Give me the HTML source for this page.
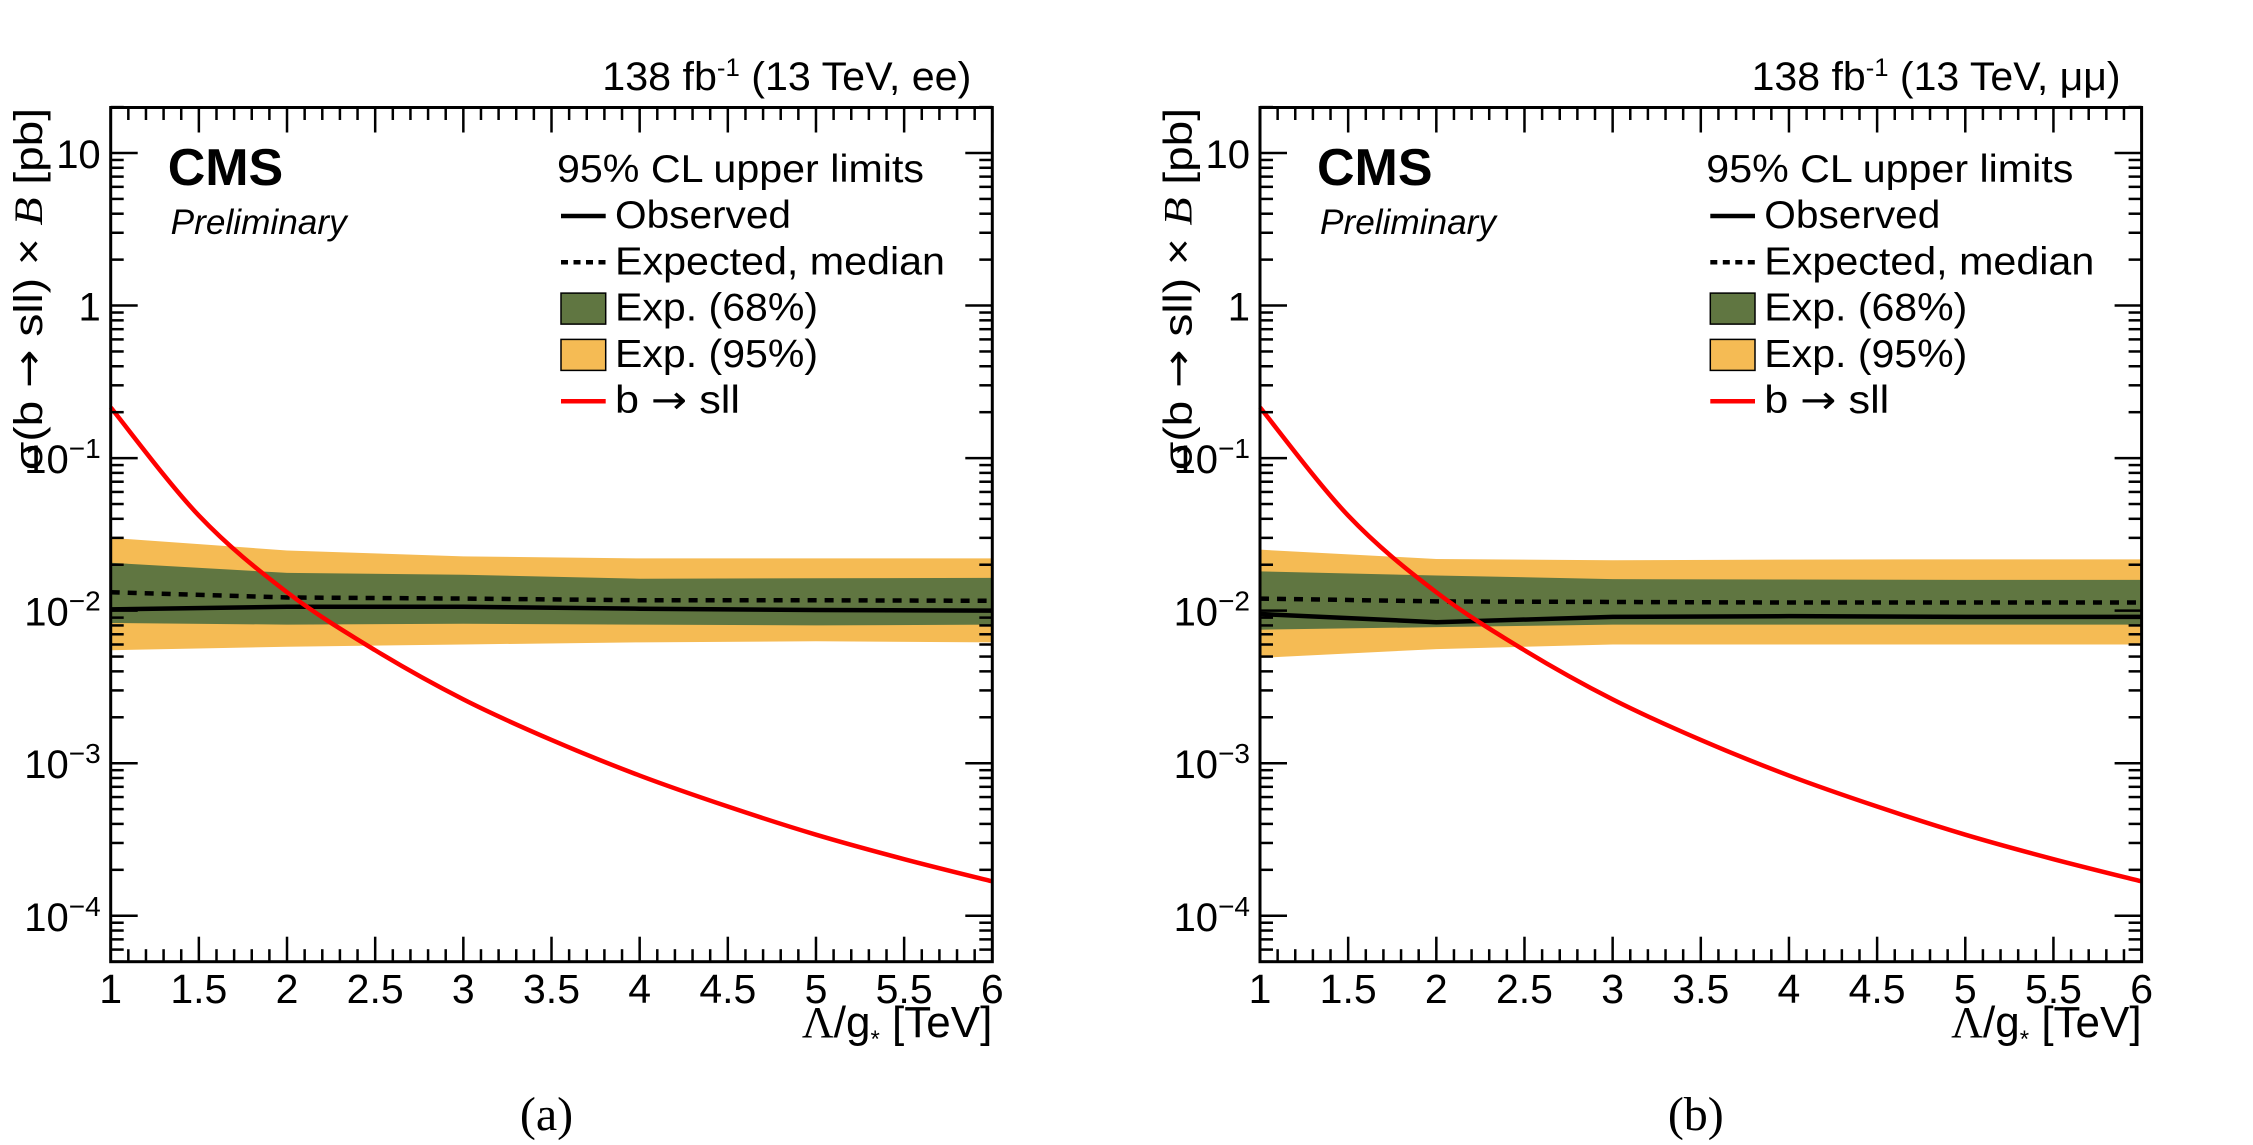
<!DOCTYPE html>
<html><head><meta charset="utf-8">
<style>
html,body{margin:0;padding:0;background:#fff;}
svg{display:block;font-family:"Liberation Sans",sans-serif;}
</style></head>
<body>
<svg id="fig" width="2253" height="1145" viewBox="0 0 2253 1145" xmlns="http://www.w3.org/2000/svg"></svg>
<script>
// ---- data ----
const xTicks = [1, 1.5, 2, 2.5, 3, 3.5, 4, 4.5, 5, 5.5, 6];
const xTickLabels = ["1","1.5","2","2.5","3","3.5","4","4.5","5","5.5","6"];
const yDecades = [1, 0, -1, -2, -3, -4];
const bandX = [1, 2, 3, 4, 5, 6];
// panel a (ee)
const aObs   = [0.0102, 0.0106, 0.0106, 0.0103, 0.0101, 0.0100];
const aExp   = [0.0132, 0.0122, 0.0120, 0.0117, 0.0117, 0.0116];
const aUp68  = [0.0206, 0.0177, 0.0172, 0.0162, 0.0163, 0.0164];
const aLo68  = [0.0083, 0.0081, 0.0082, 0.0081, 0.0080, 0.0081];
const aUp95  = [0.0300, 0.0248, 0.0227, 0.0220, 0.0220, 0.0220];
const aLo95  = [0.0055, 0.0058, 0.0060, 0.0062, 0.0063, 0.0062];
// panel b (mumu)
const bObs   = [0.0095, 0.0084, 0.0091, 0.0092, 0.0091, 0.0091];
const bExp   = [0.0120, 0.0115, 0.0114, 0.0113, 0.0113, 0.0113];
const bUp68  = [0.0181, 0.0170, 0.0161, 0.0160, 0.0159, 0.0159];
const bLo68  = [0.0075, 0.0078, 0.0081, 0.0081, 0.0081, 0.0081];
const bUp95  = [0.0251, 0.0218, 0.0214, 0.0216, 0.0217, 0.0217];
const bLo95  = [0.0049, 0.0056, 0.0060, 0.0060, 0.0060, 0.0060];
// theory b -> sll
const thX = [1, 1.5, 2, 2.5, 3, 3.5, 4, 4.5, 5, 5.5, 6];
const thY = [0.215, 0.042, 0.0132, 0.0055, 0.00262, 0.00142, 0.00083, 0.00052, 0.00034, 0.000235, 0.000168];

const NS = "http://www.w3.org/2000/svg";
const svg = document.getElementById('fig');
function mk(tag, attrs, parent){
  const e = document.createElementNS(NS, tag);
  for (const k in attrs) e.setAttribute(k, attrs[k]);
  (parent||svg).appendChild(e);
  return e;
}
function txt(s, attrs, parent){ const t = mk('text', attrs, parent); t.textContent = s; return t; }

function panel(off, label, chan, obs, exp, up68, lo68, up95, lo95, cap){
  const L = 110.7 + off, R = L + 881.6, T = 107.5, B = 961.7;
  const X = v => L + (v - 1) * (R - L) / 5;
  const Y = v => 153 + (1 - Math.log10(v)) * 152.55;
  const g = mk('g', {});
  
  
  function band(up, lo, color, name){
    let d = '';
    bandX.forEach((x,i)=>{ d += (i?'L':'M') + X(x) + ' ' + Y(up[i]); });
    for (let i = bandX.length-1; i >= 0; i--) d += 'L' + X(bandX[i]) + ' ' + Y(lo[i]);
    const p = mk('path', {d: d + 'Z', fill: color, stroke: 'none'}, g);
    
    
  }
  band(up95, lo95, '#F5BB54', 'band-95');
  band(up68, lo68, '#607641', 'band-68');
  function line(arr, attrs, name){
    const pts = bandX.map((x,i)=> X(x) + ',' + Y(arr[i])).join(' ');
    const l = mk('polyline', Object.assign({points: pts, fill: 'none'}, attrs), g);
    
    
  }
  line(exp, {stroke:'#000','stroke-width':4.5,'stroke-dasharray':'9 8'}, 'expected-line');
  line(obs, {stroke:'#000','stroke-width':4.5}, 'observed-line');
  const P = thX.map((x,i)=>[X(x), Y(thY[i])]);
  let d = 'M' + P[0][0] + ' ' + P[0][1];
  for (let i = 0; i < P.length-1; i++){
    const p0 = P[Math.max(0,i-1)], p1 = P[i], p2 = P[i+1], p3 = P[Math.min(P.length-1,i+2)];
    const c1 = [p1[0]+(p2[0]-p0[0])/6, p1[1]+(p2[1]-p0[1])/6];
    const c2 = [p2[0]-(p3[0]-p1[0])/6, p2[1]-(p3[1]-p1[1])/6];
    d += 'C' + c1[0] + ' ' + c1[1] + ' ' + c2[0] + ' ' + c2[1] + ' ' + p2[0] + ' ' + p2[1];
  }
  const th = mk('path', {d: d, fill:'none', stroke:'#FF0000', 'stroke-width':4.5}, g);
  
  
  const fr = mk('rect', {x:L, y:T, width:R-L, height:B-T, fill:'none', stroke:'#000', 'stroke-width':3}, g);
  
  
  const ax = mk('g', {stroke:'#000','stroke-width':2.5}, g);
  
  
  for (let v = 1; v <= 6.0001; v += 0.1){
    const major = Math.abs(v*2 - Math.round(v*2)) < 1e-6;
    const len = major ? 25 : 12.5;
    const x = X(v);
    mk('line', {x1:x, y1:B, x2:x, y2:B-len}, ax);
    mk('line', {x1:x, y1:T, x2:x, y2:T+len}, ax);
  }
  xTicks.forEach((v,i)=>{
    const t = txt(xTickLabels[i], {x:X(v), y:1003, 'font-size':41, 'text-anchor':'middle'}, g);
    
    
  });
  const ay = mk('g', {stroke:'#000','stroke-width':2.5}, g);
  
  
  for (let dec = -5; dec <= 1; dec++){
    for (let m = 1; m <= 9; m++){
      const v = m * Math.pow(10, dec);
      const y = Y(v);
      if (y < T - 0.5 || y > B + 0.5) continue;
      const len = m === 1 ? 27 : 13;
      mk('line', {x1:L, y1:y, x2:L+len, y2:y}, ay);
      mk('line', {x1:R, y1:y, x2:R-len, y2:y}, ay);
    }
  }
  yDecades.forEach(e=>{
    const y = Y(Math.pow(10,e)) + 15;
    let t;
    if (e === 1) t = txt('10', {x:L-10, y:y, 'font-size':40, 'text-anchor':'end'}, g);
    else if (e === 0) t = txt('1', {x:L-10, y:y, 'font-size':40, 'text-anchor':'end'}, g);
    else {
      t = mk('text', {x:L-10, y:y, 'font-size':40, 'text-anchor':'end'}, g);
      const a = mk('tspan', {}, t); a.textContent = '10';
      const b = mk('tspan', {dy:-15, 'font-size':28}, t); b.textContent = '\u2212' + (-e);
    }
    
    
  });
  // titles
  const yt = mk('text', {transform:'translate(' + (off+42) + ',108) rotate(-90)', 'font-size':40, 'text-anchor':'end', textLength:362, lengthAdjust:'spacingAndGlyphs'}, g);
  
  
  const s1 = mk('tspan', {}, yt); s1.textContent = '\u03C3(b ';
  const s1b = mk('tspan', {'font-family':'DejaVu Sans, sans-serif'}, yt); s1b.textContent = '\u2192';
  const s1c = mk('tspan', {}, yt); s1c.textContent = ' sll) \u00D7 ';
  const s2 = mk('tspan', {'font-family':'Liberation Serif, serif','font-style':'italic'}, yt); s2.textContent = 'B';
  const s3 = mk('tspan', {}, yt); s3.textContent = ' [pb]';
  const xt = mk('text', {x:R, y:1037, 'font-size':44, 'text-anchor':'end'}, g);
  
  
  const x1 = mk('tspan', {'font-family':'Liberation Serif, serif'}, xt); x1.textContent = '\u039B';
  const x2 = mk('tspan', {}, xt); x2.textContent = '/g';
  const x3 = mk('tspan', {dy:10, 'font-size':24}, xt); x3.textContent = '*';
  const x4 = mk('tspan', {dy:-10}, xt); x4.textContent = ' [TeV]';
  const hd = mk('text', {x:R-21, y:90, 'font-size':40, 'text-anchor':'end', textLength:369, lengthAdjust:'spacingAndGlyphs'}, g);
  
  
  const h1 = mk('tspan', {}, hd); h1.textContent = '138 fb';
  const h2 = mk('tspan', {dy:-14, 'font-size':25}, hd); h2.textContent = '-1';
  const h3 = mk('tspan', {dy:14}, hd); h3.textContent = ' (13 TeV, ' + chan + ')';
  const cms = txt('CMS', {x:L+57, y:185, 'font-size':52, 'font-weight':'bold'}, g);
  
  
  const pre = txt('Preliminary', {x:L+60, y:234, 'font-size':35, 'font-style':'italic', textLength:176, lengthAdjust:'spacingAndGlyphs'}, g);
  
  
  const lg = mk('g', {}, g);
  
  
  const lx = L + 446.3;
  const lt = txt('95% CL upper limits', {x:lx, y:182, 'font-size':39, textLength:367, lengthAdjust:'spacingAndGlyphs'}, lg);
  
  
  const entries = [
    ['Observed', 'solid', 176], ['Expected, median', 'dash', 330], ['Exp. (68%)', 'box68', 203], ['Exp. (95%)', 'box95', 203], ['b \u2192 sll', 'red', 125]
  ];
  entries.forEach((en,i)=>{
    const by = 228 + i*46.3;
    const eg = mk('g', {}, lg);
    
    
    const sx = lx + 4, ex = lx + 48.7, cy = by - 12;
    if (en[1] === 'solid') mk('line', {x1:sx, y1:cy, x2:ex, y2:cy, stroke:'#000','stroke-width':4.5}, eg);
    if (en[1] === 'dash') mk('line', {x1:sx, y1:cy, x2:ex, y2:cy, stroke:'#000','stroke-width':4.5,'stroke-dasharray':'7 5.5'}, eg);
    if (en[1] === 'red') mk('line', {x1:sx, y1:cy, x2:ex, y2:cy, stroke:'#FF0000','stroke-width':4.5}, eg);
    if (en[1] === 'box68') mk('rect', {x:sx, y:cy-15.5, width:ex-sx, height:31, fill:'#607641', stroke:'#000','stroke-width':1.5}, eg);
    if (en[1] === 'box95') mk('rect', {x:sx, y:cy-15.5, width:ex-sx, height:31, fill:'#F5BB54', stroke:'#000','stroke-width':1.5}, eg);
    if (en[1] === 'red') {
      const t = mk('text', {x:lx+58, y:by, 'font-size':39, textLength:en[2], lengthAdjust:'spacingAndGlyphs'}, eg);
      const a = mk('tspan', {}, t); a.textContent = 'b ';
      const b = mk('tspan', {'font-family':'DejaVu Sans, sans-serif'}, t); b.textContent = '\u2192';
      const c = mk('tspan', {}, t); c.textContent = ' sll';
    } else {
      txt(en[0], {x:lx+58, y:by, 'font-size':39, textLength:en[2], lengthAdjust:'spacingAndGlyphs'}, eg);
    }
  });
  const c = txt(cap, {x:(L+R)/2 - 5, y:1130, 'font-size':48, 'text-anchor':'middle', 'font-family':'Liberation Serif, serif'}, g);
  
  
}
panel(0, 'a', 'ee', aObs, aExp, aUp68, aLo68, aUp95, aLo95, '(a)');
panel(1149.3, 'b', '\u03BC\u03BC', bObs, bExp, bUp68, bLo68, bUp95, bLo95, '(b)');
</script>
</body></html>
